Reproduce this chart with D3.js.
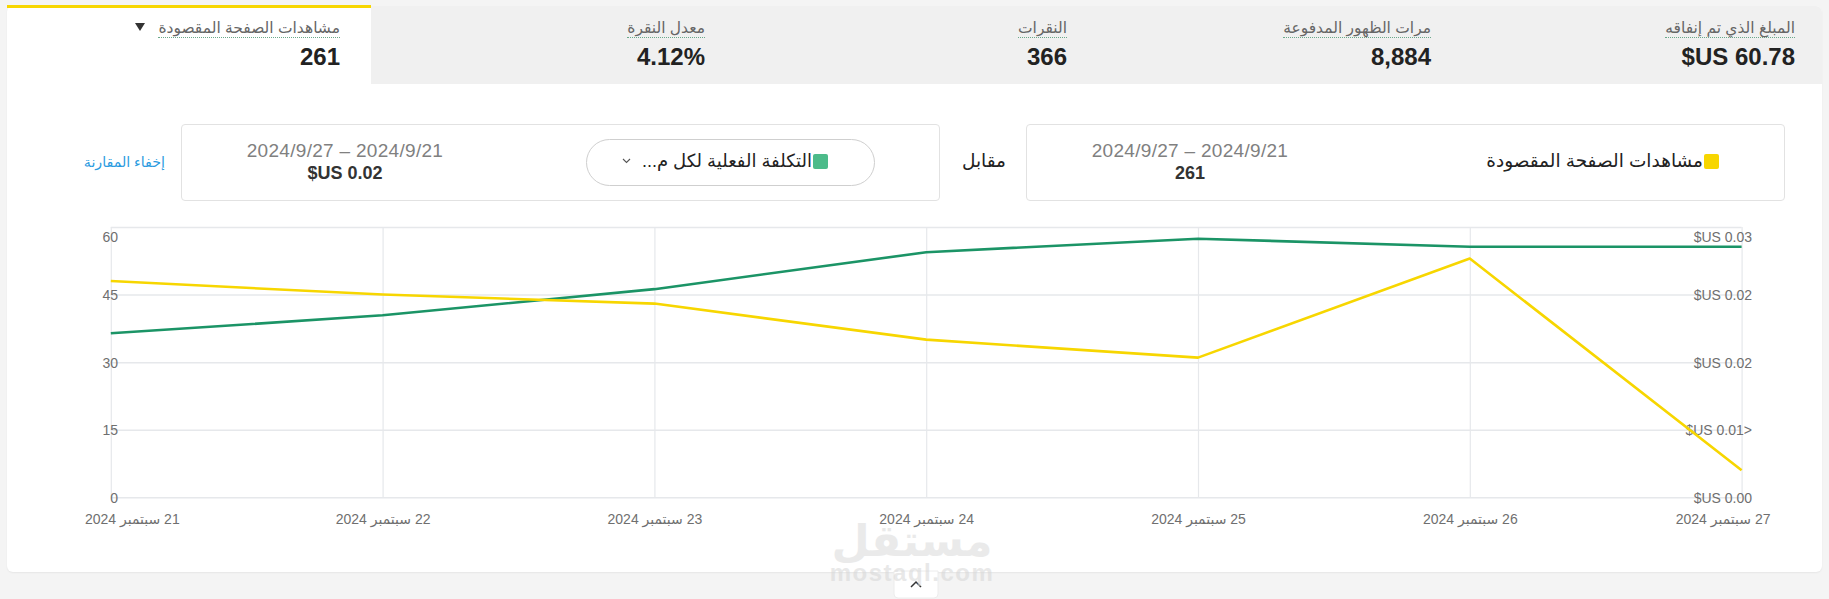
<!DOCTYPE html>
<html>
<head>
<meta charset="utf-8">
<script src="https://cdn.jsdelivr.net/npm/d3@7"></script>
<style>
  html, body { margin: 0; padding: 0; }
  body { width: 1829px; height: 599px; background: #f4f4f4; position: relative; overflow: hidden;
         font-family: "Liberation Sans", Arial, "DejaVu Sans", sans-serif; }
  .abs { position: absolute; white-space: nowrap; }
  .rtl { direction: rtl; }
  #card { left: 7px; top: 6px; width: 1815px; height: 566px; background: #fff; border-radius: 6px;
          box-shadow: 0 1px 2px rgba(0,0,0,0.06); }
  #tabbar { left: 371px; top: 6px; width: 1451px; height: 78px; background: #f0f0f0; border-top-right-radius: 6px; }
  #seltab { left: 7px; top: 5px; width: 364px; height: 3px; background: #f7d600; }
  .tlabel { font-size: 15.5px; color: #666; border-bottom: 1px dotted #6aa88a; line-height: 18px; }
  .tvalue { font-size: 24px; font-weight: bold; color: #222; }
  .box { border: 1px solid #e2e2e2; border-radius: 4px; background: #fff; box-sizing: border-box; }
  .date { font-size: 19px; color: #808080; text-align: center; letter-spacing: 0.3px; }
  .bval { font-size: 18px; font-weight: bold; color: #333; text-align: center; }
  svg { position: absolute; left: 0; top: 0; }
</style>
</head>
<body>
<div id="root"></div>
<script>
// ---------- data ----------
const dates = ["21 سبتمبر 2024","22 سبتمبر 2024","23 سبتمبر 2024","24 سبتمبر 2024","25 سبتمبر 2024","26 سبتمبر 2024","27 سبتمبر 2024"];
const landingViews = [48, 45, 43, 35, 31, 53, 6];
const costPerView = [0.0182, 0.0202, 0.0231, 0.0272, 0.0287, 0.0278, 0.0278];
const leftTicks = [0, 15, 30, 45, 60];
const rightTicks = [0, 0.0075, 0.015, 0.0225, 0.03];
const rightTickLabels = ["$US 0.00", "$US 0.01>", "$US 0.02", "$US 0.02", "$US 0.03"];
const tabLabels = ["مشاهدات الصفحة المقصودة", "معدل النقرة", "النقرات", "مرات الظهور المدفوعة", "المبلغ الذي تم إنفاقه"];
const tabValues = ["261", "4.12%", "366", "8,884", "$US 60.78"];
const dateRange = "2024/9/27 – 2024/9/21";
const metricA = "مشاهدات الصفحة المقصودة";
const metricB = "التكلفة الفعلية لكل م...";
const totalA = "261";
const totalB = "$US 0.02";

const W = 1829, H = 599;
const root = d3.select("#root");

// ---------- card and tabs ----------
root.append("div").attr("class","abs").attr("id","card");
root.append("div").attr("class","abs").attr("id","tabbar");
root.append("div").attr("class","abs").attr("id","seltab");

const tabRight = [340, 705, 1067, 1431, 1795];
tabLabels.forEach((t, i) => {
  root.append("div").attr("class","abs rtl tlabel")
    .style("right", (W - tabRight[i]) + "px").style("top", "19px").text(t);
  root.append("div").attr("class","abs tvalue")
    .style("right", (W - tabRight[i]) + "px").style("top", "43px").text(tabValues[i]);
});
// dropdown triangle on selected tab
root.append("div").attr("class","abs").style("left","135px").style("top","23px")
  .style("width","0").style("height","0")
  .style("border-left","5px solid transparent").style("border-right","5px solid transparent")
  .style("border-top","8px solid #333");

// ---------- comparison row ----------
root.append("div").attr("class","abs box").style("left","181px").style("top","124px").style("width","759px").style("height","77px");
root.append("div").attr("class","abs box").style("left","1026px").style("top","124px").style("width","759px").style("height","77px");

// pill
root.append("div").attr("class","abs").style("left","586px").style("top","139px").style("width","289px").style("height","47px")
  .style("border","1px solid #cfcfcf").style("border-radius","24px").style("box-sizing","border-box").style("background","#fff");
root.append("div").attr("class","abs").style("left","813px").style("top","154px").style("width","15px").style("height","15px")
  .style("background","#4cbb8a").style("border-radius","2px");
root.append("div").attr("class","abs rtl").style("right", (W - 812) + "px").style("top","150px")
  .style("font-size","18px").style("color","#222").text(metricB);

root.append("div").attr("class","abs date").style("left","225px").style("width","240px").style("top","140px").text(dateRange);
root.append("div").attr("class","abs bval").style("left","225px").style("width","240px").style("top","163px").text(totalB);

root.append("div").attr("class","abs rtl").style("right", (W - 1006) + "px").style("top","150px")
  .style("font-size","18.5px").style("color","#222").text("مقابل");

root.append("div").attr("class","abs").style("left","1704px").style("top","154px").style("width","15px").style("height","15px")
  .style("background","#f7d600").style("border-radius","2px");
root.append("div").attr("class","abs rtl").style("right", (W - 1703) + "px").style("top","150px")
  .style("font-size","18.5px").style("color","#222").text(metricA);
root.append("div").attr("class","abs date").style("left","1070px").style("width","240px").style("top","140px").text(dateRange);
root.append("div").attr("class","abs bval").style("left","1070px").style("width","240px").style("top","163px").text(totalA);

root.append("div").attr("class","abs rtl").style("right", (W - 165) + "px").style("top","154px")
  .style("font-size","14.2px").style("color","#2b9be0").text("إخفاء المقارنة");

// ---------- chart ----------
const svg = d3.select("body").append("svg").attr("width", W).attr("height", H);
// chevron in pill
svg.append("path").attr("d", "M623,159 L626.5,162.5 L630,159").attr("fill", "none").attr("stroke", "#555").attr("stroke-width", 1.1);

const x0 = 110.8, x1 = 1741.6, yTop = 227, yBot = 497.3;

const x = d3.scalePoint().domain(dates).range([x0, x1]);
const yL = d3.scaleLinear().domain([0, 60]).range([yBot, yTop]);
const yR = d3.scaleLinear().domain([0, 0.03]).range([yBot, yTop]);

// horizontal grid
svg.append("g").attr("transform", `translate(${x0},0)`)
  .call(d3.axisLeft(yL).tickValues(leftTicks).tickSize(-(x1 - x0)).tickFormat(""))
  .call(g => g.select(".domain").remove())
  .call(g => g.selectAll("line").attr("stroke", "#e6e8eb").attr("stroke-width", 1.5));
// vertical grid
svg.append("g").attr("transform", `translate(0,${yBot})`)
  .call(d3.axisBottom(x).tickSize(-(yBot - yTop)).tickFormat(""))
  .call(g => g.select(".domain").remove())
  .call(g => g.selectAll("line").attr("stroke", "#e6e8eb").attr("stroke-width", 1.2));

// left labels
svg.append("g").attr("transform", `translate(118,0)`)
  .call(d3.axisLeft(yL).tickValues(leftTicks).tickSize(0).tickPadding(0).tickFormat(d3.format("d")))
  .call(g => g.select(".domain").remove())
  .call(g => g.selectAll("text").attr("fill", "#6f6f6f").attr("font-size", 14)
      .attr("font-family", "'Liberation Sans', Arial, sans-serif")
      .attr("dy", d => d === 60 ? "1.05em" : "0.35em"));

// right labels
svg.append("g").attr("transform", `translate(1752,0)`)
  .call(d3.axisLeft(yR).tickValues(rightTicks).tickSize(0).tickPadding(0)
      .tickFormat((d, i) => rightTickLabels[i]))
  .call(g => g.select(".domain").remove())
  .call(g => g.selectAll("text").attr("fill", "#6f6f6f").attr("font-size", 14)
      .attr("font-family", "'Liberation Sans', Arial, sans-serif")
      .attr("dy", d => d === 0.03 ? "1.05em" : "0.35em"));

// x labels
const xl = svg.append("g").attr("transform", `translate(0,${yBot})`)
  .call(d3.axisBottom(x).tickSize(0).tickPadding(0))
  .call(g => g.select(".domain").remove());
xl.selectAll("text")
  .attr("fill", "#6f6f6f").attr("font-size", 14)
  .attr("font-family", "'Liberation Sans', Arial, 'DejaVu Sans', sans-serif")
  .attr("direction", "rtl").attr("unicode-bidi", "embed")
  .attr("y", 17)
  .attr("dx", (d, i) => i === 0 ? 21 : (i === dates.length - 1 ? -19 : 0));

// lines
const lineA = d3.line().x((d, i) => x(dates[i])).y(d => yL(d));
const lineB = d3.line().x((d, i) => x(dates[i])).y(d => yR(d));
svg.append("path").datum(costPerView).attr("d", lineB)
  .attr("fill", "none").attr("stroke", "#1b9466").attr("stroke-width", 2.6).attr("stroke-linejoin", "round");
svg.append("path").datum(landingViews).attr("d", lineA)
  .attr("fill", "none").attr("stroke", "#f7d600").attr("stroke-width", 2.6).attr("stroke-linejoin", "round");

// bottom collapse tab
svg.append("path").attr("d", "M894,571 L938,571 L938,594 Q938,598 934,598 L898,598 Q894,598 894,594 Z")
  .attr("fill", "#fff").attr("stroke", "#ececec");
svg.append("path").attr("d", "M911,587 L916,582 L921,587").attr("fill", "none").attr("stroke", "#333").attr("stroke-width", 1.5);

// watermark
svg.append("text").attr("x", 912).attr("y", 556).attr("text-anchor", "middle")
  .attr("font-size", 44).attr("font-weight", "bold").attr("fill", "#d6d6d6").attr("opacity", 0.5)
  .attr("font-family", "'DejaVu Sans', sans-serif").text("مستقل");
svg.append("text").attr("x", 912).attr("y", 581).attr("text-anchor", "middle")
  .attr("font-size", 24).attr("font-weight", "bold").attr("fill", "#d6d6d6").attr("opacity", 0.55)
  .attr("letter-spacing", 1.5)
  .attr("font-family", "'Liberation Sans', Arial, sans-serif").text("mostaql.com");
</script>
</body>
</html>
